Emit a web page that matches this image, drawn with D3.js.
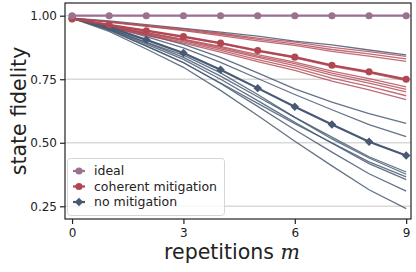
<!DOCTYPE html>
<html>
  <head>
    <style>
      body { margin: 0; background: #fff; }
      text { font-family: "DejaVu Sans", sans-serif; }
    </style>
    <script src="https://d3js.org/d3.v7.min.js"></script>
  </head>
  <body>
    <svg width="416" height="272"></svg>
    <script>
      var reps = [0, 1, 2, 3, 4, 5, 6, 7, 8, 9];
      var yTicks = [0.25, 0.5, 0.75, 1.0];
      var xTicks = [0, 3, 6, 9];

      var ideal = [1, 1, 1, 1, 1, 1, 1, 1, 1, 1];
      var coherentMean = [0.987, 0.964, 0.941, 0.918, 0.892, 0.863, 0.837, 0.805, 0.779, 0.75];
      var noMitMean = [0.99, 0.955, 0.905, 0.853, 0.787, 0.715, 0.642, 0.572, 0.504, 0.45];

      // individual runs, coherent mitigation
      var coherentRuns = [
        [0.99, 0.977, 0.962, 0.948, 0.931, 0.912, 0.896, 0.875, 0.859, 0.84],
        [0.99, 0.976, 0.96, 0.944, 0.927, 0.907, 0.889, 0.867, 0.85, 0.83],
        [0.99, 0.974, 0.958, 0.941, 0.922, 0.901, 0.883, 0.86, 0.841, 0.82],
        [0.99, 0.963, 0.94, 0.916, 0.89, 0.86, 0.834, 0.801, 0.775, 0.745],
        [0.99, 0.96, 0.934, 0.908, 0.879, 0.847, 0.817, 0.782, 0.752, 0.72],
        [0.99, 0.958, 0.932, 0.905, 0.875, 0.841, 0.811, 0.774, 0.744, 0.71],
        [0.99, 0.957, 0.929, 0.902, 0.87, 0.836, 0.804, 0.766, 0.735, 0.7],
        [0.99, 0.955, 0.925, 0.897, 0.864, 0.827, 0.795, 0.754, 0.722, 0.685],
        [0.99, 0.953, 0.922, 0.892, 0.857, 0.819, 0.785, 0.743, 0.708, 0.67]
      ];

      // individual runs, no mitigation
      var noMitRuns = [
        [0.99, 0.98, 0.965, 0.95, 0.935, 0.92, 0.9, 0.885, 0.865, 0.846],
        [0.99, 0.965, 0.927, 0.887, 0.836, 0.775, 0.712, 0.66, 0.615, 0.576],
        [0.99, 0.961, 0.918, 0.873, 0.816, 0.753, 0.69, 0.63, 0.571, 0.524],
        [0.99, 0.95, 0.894, 0.836, 0.762, 0.681, 0.6, 0.522, 0.445, 0.385],
        [0.99, 0.949, 0.895, 0.845, 0.775, 0.69, 0.6, 0.515, 0.44, 0.376],
        [0.99, 0.945, 0.88, 0.815, 0.735, 0.655, 0.575, 0.5, 0.425, 0.366],
        [0.99, 0.947, 0.888, 0.828, 0.75, 0.666, 0.58, 0.498, 0.418, 0.355],
        [0.99, 0.943, 0.881, 0.816, 0.733, 0.643, 0.551, 0.463, 0.378, 0.31],
        [0.99, 0.938, 0.869, 0.797, 0.706, 0.607, 0.506, 0.409, 0.315, 0.241]
      ];

      var colIdeal = "#9a7190",
        colRed = "#b04753",
        colSlate = "#485a73";

      var svg = d3.select("svg");
      var pLeft = 65, pRight = 411, pTop = 3, pBottom = 219;

      var x = d3.scaleLinear().domain([-0.19, 9.13]).range([pLeft, pRight]);
      var y = d3.scaleLinear().domain([0.2, 1.05]).range([pBottom, pTop]);

      // grid
      svg.append("g")
        .selectAll("line")
        .data(yTicks)
        .enter()
        .append("line")
        .attr("x1", pLeft)
        .attr("x2", pRight)
        .attr("y1", function (d) { return y(d); })
        .attr("y2", function (d) { return y(d); })
        .attr("stroke", "#d9d9d9")
        .attr("stroke-width", 1.5);

      var line = d3.line()
        .x(function (d, i) { return x(reps[i]); })
        .y(function (d) { return y(d); });

      svg.append("g")
        .selectAll("path")
        .data(noMitRuns)
        .enter()
        .append("path")
        .attr("d", line)
        .attr("fill", "none")
        .attr("stroke", colSlate)
        .attr("stroke-opacity", 0.85)
        .attr("stroke-width", 1.3);

      svg.append("g")
        .selectAll("path")
        .data(coherentRuns)
        .enter()
        .append("path")
        .attr("d", line)
        .attr("fill", "none")
        .attr("stroke", colRed)
        .attr("stroke-opacity", 0.8)
        .attr("stroke-width", 1.3);

      function meanSeries(vals, col, shape, size) {
        var g = svg.append("g");
        g.append("path")
          .attr("d", line(vals))
          .attr("fill", "none")
          .attr("stroke", col)
          .attr("stroke-width", 2.2);
        g.selectAll("path.m")
          .data(vals)
          .enter()
          .append("path")
          .attr("class", "m")
          .attr("d", d3.symbol().type(shape).size(size))
          .attr("transform", function (d, i) {
            return "translate(" + x(reps[i]) + "," + y(d) + ")" + (shape === d3.symbolSquare ? " rotate(45)" : "");
          })
          .attr("fill", col);
      }

      meanSeries(noMitMean, colSlate, d3.symbolSquare, 36);
      meanSeries(coherentMean, colRed, d3.symbolCircle, 40);
      meanSeries(ideal, colIdeal, d3.symbolCircle, 40);

      // frame
      svg.append("rect")
        .attr("x", pLeft)
        .attr("y", pTop)
        .attr("width", pRight - pLeft)
        .attr("height", pBottom - pTop)
        .attr("fill", "none")
        .attr("stroke", "#222")
        .attr("stroke-width", 1.2);

      // axes
      var yAxis = svg.append("g")
        .attr("transform", "translate(" + pLeft + ",0)")
        .call(d3.axisLeft(y).tickValues(yTicks).tickFormat(d3.format(".2f")).tickSize(5).tickPadding(3));
      var xAxis = svg.append("g")
        .attr("transform", "translate(0," + pBottom + ")")
        .call(d3.axisBottom(x).tickValues(xTicks).tickSize(5).tickPadding(4));
      [xAxis, yAxis].forEach(function (a) {
        a.select(".domain").remove();
        a.selectAll("line").attr("stroke", "#222").attr("stroke-width", 1.2);
        a.selectAll("text").attr("font-size", 12).attr("fill", "#222")
          .attr("font-family", "DejaVu Sans");
      });

      // axis labels
      svg.append("text")
        .attr("transform", "translate(26," + (pTop + pBottom) / 2 + ") rotate(-90)")
        .attr("text-anchor", "middle")
        .attr("font-size", 20.5)
        .attr("fill", "#222")
        .text("state fidelity");

      var xl = svg.append("text")
        .attr("x", 232)
        .attr("y", 259)
        .attr("text-anchor", "middle")
        .attr("font-size", 20.5)
        .attr("fill", "#222");
      xl.append("tspan").text("repetitions ");
      xl.append("tspan").attr("font-style", "italic").attr("font-family", "DejaVu Serif").text("m");

      // legend
      var legendItems = [
        { label: "ideal", col: colIdeal, shape: d3.symbolCircle },
        { label: "coherent mitigation", col: colRed, shape: d3.symbolCircle },
        { label: "no mitigation", col: colSlate, shape: d3.symbolSquare }
      ];
      var lg = svg.append("g");
      lg.append("rect")
        .attr("x", 67.5).attr("y", 158.5).attr("width", 157).attr("height", 57)
        .attr("rx", 3)
        .attr("fill", "#fff").attr("fill-opacity", 0.8)
        .attr("stroke", "#d6d6d6").attr("stroke-width", 1);
      var rows = lg.selectAll("g.row")
        .data(legendItems)
        .enter()
        .append("g")
        .attr("transform", function (d, i) { return "translate(79," + (171 + i * 15.5) + ")"; });
      rows.append("line")
        .attr("x1", -6).attr("x2", 6)
        .attr("stroke", function (d) { return d.col; })
        .attr("stroke-width", 2.2);
      rows.append("path")
        .attr("d", function (d) { return d3.symbol().type(d.shape).size(d.shape === d3.symbolSquare ? 36 : 40)(); })
        .attr("transform", function (d) { return d.shape === d3.symbolSquare ? "rotate(45)" : null; })
        .attr("fill", function (d) { return d.col; });
      rows.append("text")
        .attr("x", 15)
        .attr("dy", "0.35em")
        .attr("font-size", 12.5)
        .attr("fill", "#222")
        .text(function (d) { return d.label; });
    </script>
  </body>
</html>
